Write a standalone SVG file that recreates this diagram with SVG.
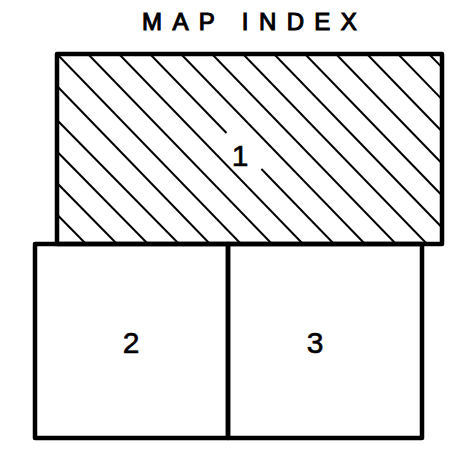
<svg xmlns="http://www.w3.org/2000/svg" width="472" height="456" viewBox="0 0 472 456">
<style>
.border{fill:none;stroke:#000;stroke-width:4.5;stroke-linejoin:round;stroke-linecap:round}
.hatch{stroke:#000;stroke-width:2;fill:none}
.lbl{font-family:"Liberation Sans",Arial,sans-serif;fill:#000;stroke:#000;stroke-width:0.6}
.title{font-size:24px;letter-spacing:10.4px;stroke-width:1.1}
.num{font-size:30px;text-anchor:middle}
</style>
<defs>
<clipPath id="clip1"><rect x="57" y="54" width="385" height="190"/></clipPath>
</defs>
<rect width="472" height="456" fill="#fff"/>
<g id="title"><text class="lbl title" x="142" y="30">MAP INDEX</text></g>
<g id="sheet-1">
<g class="hatch" clip-path="url(#clip1)">
<line x1="-101" y1="54" x2="86" y2="244"/>
<line x1="-70" y1="54" x2="117" y2="244"/>
<line x1="-39" y1="54" x2="148" y2="244"/>
<line x1="-8" y1="54" x2="179" y2="244"/>
<line x1="26" y1="54" x2="210" y2="244"/>
<line x1="57" y1="54" x2="241" y2="244"/>
<line x1="88" y1="54" x2="272" y2="244"/>
<line x1="119" y1="54" x2="303" y2="244"/>
<line x1="150" y1="54" x2="226.5" y2="133"/>
<line x1="261.4" y1="169" x2="334" y2="244"/>
<line x1="181" y1="54" x2="365" y2="244"/>
<line x1="212" y1="54" x2="396" y2="244"/>
<line x1="243" y1="54" x2="427" y2="244"/>
<line x1="274" y1="54" x2="458" y2="244"/>
<line x1="305" y1="54" x2="489" y2="244"/>
<line x1="336" y1="54" x2="520" y2="244"/>
<line x1="367" y1="54" x2="551" y2="244"/>
<line x1="398" y1="54" x2="582" y2="244"/>
<line x1="429" y1="54" x2="613" y2="244"/>
</g>
<rect class="border" x="57" y="54" width="385" height="190"/>
<text class="lbl num" x="240" y="166">1</text>
</g>
<g id="sheet-2">
<rect class="border" x="35" y="244" width="193" height="194"/>
<text class="lbl num" x="131" y="353">2</text>
</g>
<g id="sheet-3">
<rect class="border" x="228" y="244" width="194" height="194"/>
<text class="lbl num" x="315" y="353">3</text>
</g>
<g id="connectors"/>
</svg>
